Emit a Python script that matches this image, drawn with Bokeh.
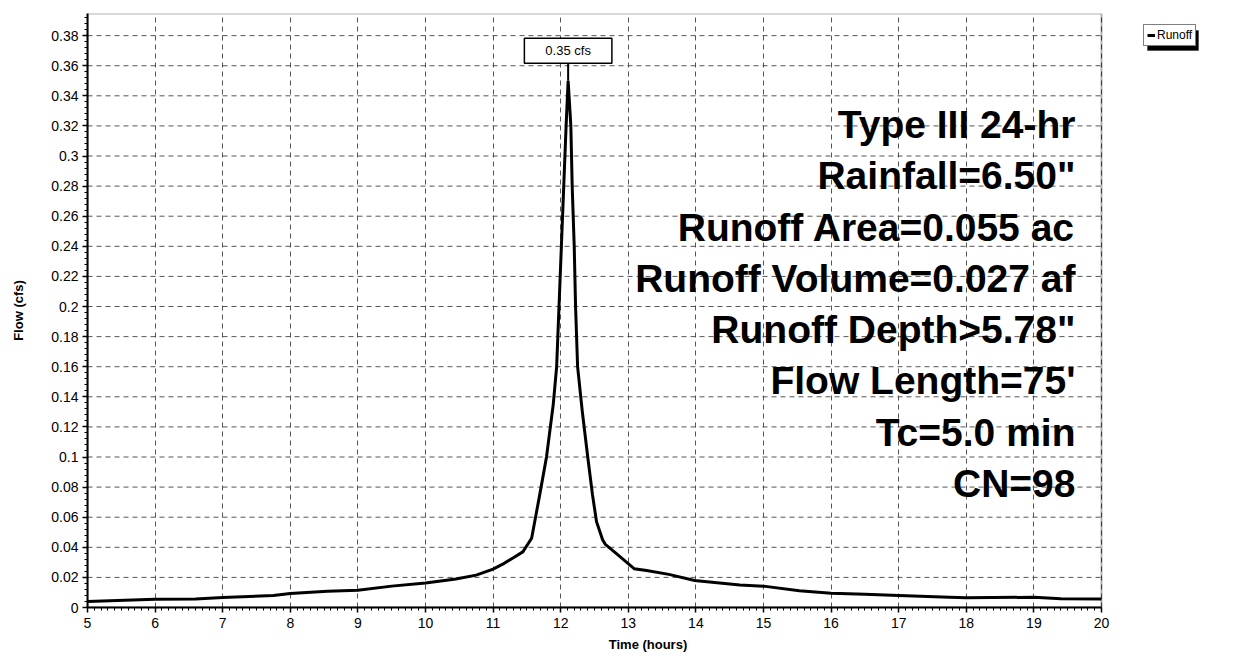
import numpy as np
from bokeh.plotting import figure
from bokeh.models import Range1d, FixedTicker, Label, Legend, LegendItem, BoxAnnotation
from bokeh.embed import file_html
from bokeh.resources import INLINE

# ---------------- data ----------------
time_hours = [5.0, 6.0, 6.6, 7.0, 7.75, 8.0, 8.55, 9.0, 9.5, 10.0, 10.45, 10.75,
              11.0, 11.15, 11.3, 11.44, 11.57, 11.69, 11.79, 11.89, 11.94, 11.975,
              12.01, 12.045, 12.08, 12.11, 12.15, 12.17, 12.2, 12.22, 12.25, 12.32,
              12.4, 12.47, 12.53, 12.62, 12.66, 12.82, 13.09, 13.27, 13.6, 13.98,
              14.65, 15.0, 15.53, 16.0, 16.5, 17.0, 17.75, 18.0, 19.0, 19.4, 20.0]
flow_cfs = [0.004, 0.0055, 0.0056, 0.0067, 0.008, 0.0093, 0.0108, 0.0115, 0.0142, 0.0163,
            0.019, 0.0215, 0.0255, 0.029, 0.033, 0.037, 0.046, 0.075, 0.100, 0.135,
            0.160, 0.200, 0.240, 0.280, 0.320, 0.350, 0.320, 0.280, 0.240, 0.200,
            0.160, 0.130, 0.100, 0.075, 0.057, 0.045, 0.042, 0.036, 0.0257, 0.0246,
            0.022, 0.018, 0.0149, 0.0142, 0.0112, 0.0095, 0.0088, 0.008, 0.0068,
            0.0065, 0.0068, 0.0058, 0.0056]

series_name = "Runoff"
peak_label = "0.35 cfs"
x_ticks = [5, 6, 7, 8, 9, 10, 11, 12, 13, 14, 15, 16, 17, 18, 19, 20]
x_tick_labels = ["5", "6", "7", "8", "9", "10", "11", "12", "13", "14", "15",
                 "16", "17", "18", "19", "20"]
y_ticks = [0.0, 0.02, 0.04, 0.06, 0.08, 0.1, 0.12, 0.14, 0.16, 0.18, 0.2, 0.22,
           0.24, 0.26, 0.28, 0.3, 0.32, 0.34, 0.36, 0.38]
y_tick_labels = ["0", "0.02", "0.04", "0.06", "0.08", "0.1", "0.12", "0.14", "0.16",
                 "0.18", "0.2", "0.22", "0.24", "0.26", "0.28", "0.3", "0.32",
                 "0.34", "0.36", "0.38"]
info_lines = ["Type III 24-hr", "Rainfall=6.50\"", "Runoff Area=0.055 ac",
              "Runoff Volume=0.027 af", "Runoff Depth>5.78\"", "Flow Length=75'",
              "Tc=5.0 min", "CN=98"]
x_label = "Time (hours)"
y_label = "Flow (cfs)"

FONT = "Liberation Sans"

# ---------------- layout constants ----------------
X0, X1 = 5, 20          # plotted time window
Y_TOP = 0.3947          # top of plotting box
PX_PER_H = 67.6
LEFT, RIGHT_PAD, TOP, BOTTOM = 87, 30, 13, 54
W, H = 1238, 661
frame_w = W - LEFT - RIGHT_PAD
frame_h = H - TOP - BOTTOM
PX_PER_Y = frame_h / Y_TOP
x_end = X0 + frame_w / PX_PER_H   # frame extends past 20 h to host the legend


def px_to_x(px):
    return X0 + (px - LEFT) / PX_PER_H


def px_to_y(py):
    return (TOP + frame_h - py) / PX_PER_Y


p = figure(width=W, height=H, title=None,
           x_range=Range1d(X0, x_end), y_range=Range1d(0, Y_TOP),
           output_backend="svg", toolbar_location=None,
           min_border_left=LEFT, min_border_right=RIGHT_PAD,
           min_border_top=TOP, min_border_bottom=BOTTOM)
p.background_fill_color = "white"
p.border_fill_color = "white"
p.outline_line_color = None

# axes
p.xaxis.ticker = FixedTicker(ticks=x_ticks,
                             minor_ticks=list(np.round(np.arange(5, 20.0001, 0.1), 3)))
p.xaxis.major_label_overrides = dict(zip(x_ticks, x_tick_labels))
p.xaxis.bounds = (X0, X1)
p.yaxis.ticker = FixedTicker(ticks=y_ticks,
                             minor_ticks=list(np.round(np.arange(0, 0.3941, 0.004), 4)))
p.yaxis.major_label_overrides = dict(zip(y_ticks, y_tick_labels))

for ax in (p.xaxis, p.yaxis):
    ax.axis_line_color = "black"
    ax.axis_line_width = 2
    ax.major_tick_line_color = "black"
    ax.major_tick_line_width = 1.5
    ax.minor_tick_line_color = "black"
    ax.major_tick_in = 0
    ax.major_tick_out = 5
    ax.minor_tick_in = 0
    ax.minor_tick_out = 3
    ax.major_label_text_font = FONT
    ax.major_label_text_font_size = "14px"
    ax.major_label_text_color = "black"
    ax.axis_label_text_font = FONT
    ax.axis_label_text_font_size = "13px"
    ax.axis_label_text_font_style = "bold"
    ax.axis_label_text_color = "black"

p.xaxis.axis_label = x_label
p.yaxis.axis_label = y_label
p.xaxis.major_label_standoff = 5
p.xaxis.axis_label_standoff = 6
p.yaxis.major_label_standoff = 4
p.yaxis.axis_label_standoff = 22

# grid: vertical lines via the x grid, horizontal lines limited to the 5-20 h box
p.xgrid.ticker = FixedTicker(ticks=x_ticks)
p.xgrid.grid_line_color = "#444444"
p.xgrid.grid_line_width = 1
p.xgrid.grid_line_dash = "5 4"
p.xgrid.grid_line_alpha = 0.9
p.ygrid.visible = False
p.segment(x0=[X0] * len(y_ticks), y0=y_ticks, x1=[X1] * len(y_ticks), y1=y_ticks,
          line_color="#444444", line_width=1, line_dash="5 4", line_alpha=0.9)

# visible plotting box
p.add_layout(BoxAnnotation(left=X0, right=X1, bottom=0, top=Y_TOP,
                           fill_alpha=0, line_color="black", line_width=2))

# hydrograph
r = p.line(time_hours, flow_cfs, line_color="black", line_width=3, line_join="miter")

# peak label with pointer
i_peak = int(np.argmax(flow_cfs))
t_peak = time_hours[i_peak]
q_peak = flow_cfs[i_peak]
p.segment(x0=[t_peak], y0=[q_peak], x1=[t_peak], y1=[q_peak + 18 / PX_PER_Y],
          line_color="black", line_width=2)
p.add_layout(Label(x=t_peak, y=q_peak, y_offset=30, text=peak_label,
                   text_align="center", text_baseline="middle",
                   text_font=FONT, text_font_size="13px", text_color="black",
                   border_line_color="black", border_line_width=1.5,
                   background_fill_color="white",
                   padding=dict(left=21, right=21, top=5, bottom=5)))

# info text block
for i, line in enumerate(info_lines):
    p.add_layout(Label(x=19.615, y=0.321, y_offset=-i * 51.3, text=line,
                       text_align="right", text_baseline="alphabetic",
                       text_font=FONT, text_font_style="bold",
                       text_font_size="39px", text_color="black"))

# legend with a drop shadow, to the right of the plotting box
LEG_L, LEG_T, LEG_W, LEG_H, SH = 1143, 26, 51, 20, 4
p.add_layout(BoxAnnotation(left=px_to_x(LEG_L + SH), right=px_to_x(LEG_L + LEG_W + SH),
                           top=px_to_y(LEG_T + SH), bottom=px_to_y(LEG_T + LEG_H + SH),
                           fill_color="black", fill_alpha=1, line_color="black"))
legend = Legend(items=[LegendItem(label=series_name, renderers=[r])],
                location=(LEG_L - LEFT, frame_h - (LEG_T - TOP) - LEG_H),
                margin=0, padding=3, spacing=0, glyph_width=8, glyph_height=14,
                label_standoff=2, label_height=14, label_text_font=FONT,
                label_text_font_size="12px", label_text_color="black",
                border_line_color="black", border_line_width=1.5,
                background_fill_color="white", background_fill_alpha=1)
p.add_layout(legend)

open("out.html", "w").write(file_html(p, INLINE))
